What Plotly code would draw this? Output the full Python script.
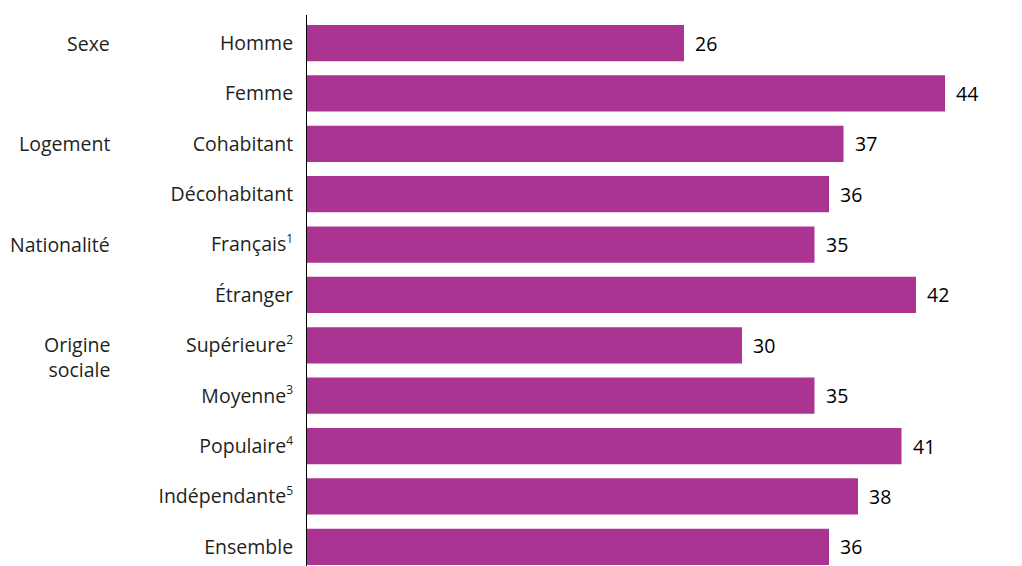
import plotly.graph_objects as go

# Share of students (%) by profile
categories = ["Homme", "Femme", "Cohabitant", "Décohabitant", "Français",
              "Étranger", "Supérieure", "Moyenne", "Populaire", "Indépendante", "Ensemble"]
footnotes = ["", "", "", "", "1", "", "2", "3", "4", "5", ""]
values = [26, 44, 37, 36, 35, 42, 30, 35, 41, 38, 36]

# Group headings and the row they sit on
groups = ["Sexe", "Logement", "Nationalité", "Origine<br>sociale"]
group_rows = [0, 2, 4, 6]

BAR_COLOR = "#AB3493"
TEXT_COLOR = "#231F20"
FONT = "Open Sans"
FS = 19.5

rows = list(range(len(categories)))
ticktext = [c + (f"<sup><span style='font-size:12px'>{n}</span></sup>" if n else "")
            for c, n in zip(categories, footnotes)]

fig = go.Figure(go.Bar(
    x=values, y=rows, orientation="h",
    marker=dict(color=BAR_COLOR, line=dict(width=0)),
    width=0.72, hoverinfo="skip",
))

annotations = []
for r, v in zip(rows, values):
    annotations.append(dict(x=v, y=r, xref="x", yref="y", text=str(v),
                            showarrow=False, xanchor="left", xshift=9,
                            font=dict(size=FS, color="black", family=FONT)))
for g, r in zip(groups, group_rows):
    multi = "<br>" in g
    annotations.append(dict(x=0, y=r, xref="paper", yref="y", text=g,
                            showarrow=False, xanchor="right", xshift=-195,
                            yanchor="top" if multi else "middle",
                            yshift=16 if multi else 0,
                            align="right",
                            font=dict(size=FS, color=TEXT_COLOR, family=FONT)))

fig.update_layout(
    width=1022, height=566,
    margin=dict(l=307, r=19, t=15, b=0),
    paper_bgcolor="white", plot_bgcolor="white",
    showlegend=False,
    font=dict(family=FONT, size=FS, color=TEXT_COLOR),
    xaxis=dict(range=[0, 48], visible=False, fixedrange=True),
    yaxis=dict(range=[10.38, -0.556], tickvals=rows, ticktext=ticktext,
               showgrid=False, zeroline=False, showline=True,
               linecolor="black", linewidth=1, ticks="",
               ticklabelstandoff=9,
               tickfont=dict(size=FS, color=TEXT_COLOR, family=FONT)),
    annotations=annotations,
)

fig.write_html("out.html")
